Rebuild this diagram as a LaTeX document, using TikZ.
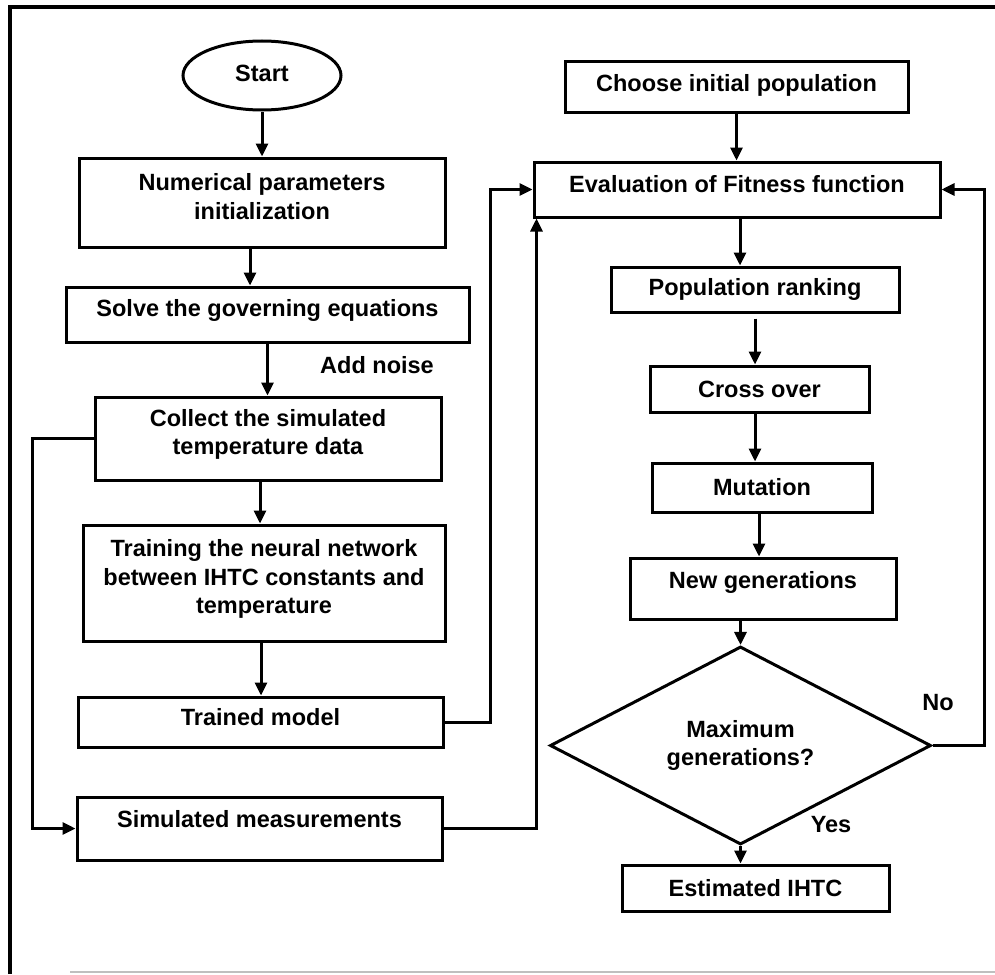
\documentclass[tikz,border=0pt]{standalone}
\usepackage{fontspec}
\setmainfont{Liberation Sans}
\usetikzlibrary{shapes.geometric,arrows.meta}
\begin{document}
\begin{tikzpicture}[x=1pt,y=-1pt,
  txt/.style={font=\bfseries\fontsize{23.5}{28.5}\selectfont},
  box/.style={txt,draw,line width=3pt,rectangle,inner sep=0pt,align=center},
  arr/.style={line width=3pt,-{Triangle[length=13pt,width=12pt]}},
  conn/.style={line width=3pt}]
\useasboundingbox (0,0) rectangle (995,974);
% frame
\draw[line width=4pt] (10,974) -- (10,7) -- (995,7);
\draw[black!25,line width=2pt] (70,972) -- (995,972);

% left column
\node[txt,draw,line width=3pt,ellipse,inner sep=0pt,minimum width=158pt,minimum height=69pt,text depth=4pt] (start) at (262,75.5) {Start};
\node[box,minimum width=366pt,minimum height=89pt,text depth=12pt] (num) at (262,202.5) {Numerical parameters\\initialization};
\node[box,minimum width=403pt,minimum height=55pt,text depth=13pt] (solve) at (267.5,314.5) {Solve the governing equations};
\node[box,minimum width=346pt,minimum height=83pt,text depth=13pt] (collect) at (268,438.5) {Collect the simulated\\temperature data};
\node[box,minimum width=362pt,minimum height=116pt,text depth=13pt] (train) at (264,583) {Training the neural network\\between IHTC constants and\\temperature};
\node[box,minimum width=365pt,minimum height=50pt,text height=17pt,text depth=10pt] (trained) at (260.5,722) {Trained model};
\node[box,minimum width=365pt,minimum height=63pt,text height=17pt,text depth=20pt] (simm) at (259.5,828.5) {Simulated measurements};

% right column
\node[box,minimum width=343pt,minimum height=50pt,text depth=9pt] (choose) at (736.5,87) {Choose initial population};
\node[box,minimum width=406pt,minimum height=55pt,text depth=12pt] (eval) at (737,189.5) {Evaluation of Fitness function};
\node[box,minimum width=288pt,minimum height=45pt] (rank) at (755,289.5) {Population ranking};
\node[box,minimum width=219pt,minimum height=46pt] (cross) at (759.5,389) {Cross over};
\node[box,minimum width=220pt,minimum height=49pt] (mut) at (762,487.5) {Mutation};
\node[box,minimum width=266pt,minimum height=61pt,text height=17pt,text depth=17pt] (newgen) at (763,588.5) {New generations};
\node[txt,draw,line width=3pt,diamond,inner sep=0pt,align=center,minimum width=381pt,minimum height=147pt] (dec) at (740.5,745.5) {Maximum\\generations?};
\node[box,minimum width=267pt,minimum height=46pt] (est) at (755.5,888) {Estimated IHTC};

% labels
\node[txt] (noise) at (377,365) {Add noise};
\node[txt] (no) at (938,703) {No};
\node[txt] (yes) at (831,825) {Yes};

% arrows left
\draw[arr] (start.south) -- (start.south |- num.north);
\draw[arr] ([xshift=-12pt]num.south) -- ([xshift=-12pt]num.south |- solve.north);
\draw[arr] (solve.south) -- (solve.south |- collect.north);
\draw[arr] ([xshift=-8pt]collect.south) -- ([xshift=-8pt]collect.south |- train.north);
\draw[arr] ([xshift=-3pt]train.south) -- ([xshift=-3pt]train.south |- trained.north);
\draw[arr] (collect.west) -- ([xshift=-61pt]collect.west) |- (simm.west);
\draw[arr] (trained.east) -- ([xshift=46pt]trained.east) |- (eval.west);
\draw[arr] (simm.east) -| ([xshift=4pt]eval.south west);

% arrows right
\draw[arr] (choose.south) -- (choose.south |- eval.north);
\draw[arr] ([xshift=3pt]eval.south) -- ([xshift=3pt]eval.south |- rank.north);
\draw[arr,shorten <=5pt] (rank.south) -- (rank.south |- cross.north);
\draw[arr] ([xshift=-4.5pt]cross.south) -- ([xshift=-4.5pt]cross.south |- mut.north);
\draw[arr] ([xshift=-3pt]mut.south) -- ([xshift=-3pt]mut.south |- newgen.north);
\draw[arr] (dec.north |- newgen.south) -- (dec.north);
\draw[arr] (dec.south) -- (dec.south |- est.north);
\draw[arr] (dec.east) -- ([xshift=52pt]dec.east) |- (eval.east);
\end{tikzpicture}
\end{document}
